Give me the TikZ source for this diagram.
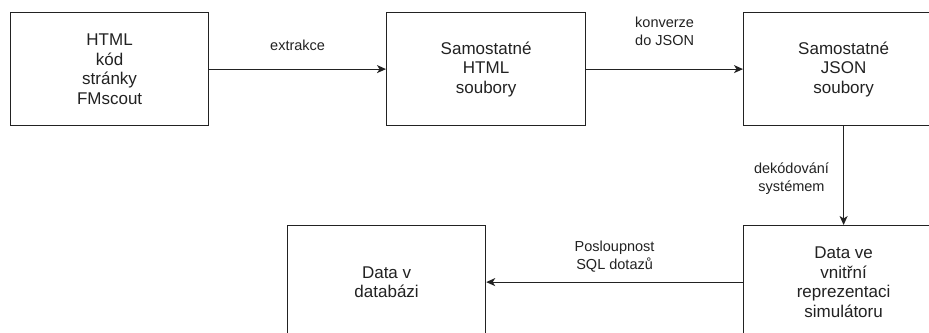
\documentclass[tikz,border=0pt]{standalone}
\usepackage{fontspec}
\setmainfont{Liberation Sans}
\usetikzlibrary{arrows.meta}
\definecolor{ink}{HTML}{222222}
\begin{document}
\begin{tikzpicture}[x=1pt,y=-1pt,
  box/.style={draw=ink, line width=1.2pt, anchor=north west, align=center,
    text=ink, font=\fontsize{17}{19.5}\selectfont, inner sep=0pt},
  flow/.style={draw=ink, line width=1.2pt, -{Stealth[length=9pt,width=8pt,inset=2.5pt]}},
  lbl/.style={text=ink, align=center, font=\fontsize{14.5}{18}\selectfont, inner sep=0pt}]
\useasboundingbox (0,0) rectangle (929,332);
\fill[white] (0,0) rectangle (929,332);

\node[box, minimum width=198pt, minimum height=113pt] (src) at (10,12)
  {HTML\\kód\\stránky\\FMscout};
\node[box, minimum width=199pt, minimum height=113pt] (html) at (386,12)
  {Samostatné\\HTML\\soubory};
\node[box, minimum width=200pt, minimum height=113pt] (json) at (743,12)
  {Samostatné\\JSON\\soubory};
\node[box, minimum width=200pt, minimum height=113pt] (sim) at (743,225)
  {Data ve\\vnitřní\\reprezentaci\\simulátoru};
\node[box, minimum width=198pt, minimum height=113pt] (db) at (287,225)
  {Data v\\databázi};

\draw[flow] (src.east) -- node[lbl, midway, above=18pt] (l1) {extrakce} (html.west);
\draw[flow] (html.east) -- node[lbl, midway, above=23pt] (l2) {konverze\\do JSON} (json.west);
\draw[flow] (json.south) -- node[lbl, midway, left=14pt, yshift=-3pt] (l3) {dekódování\\systémem} (sim.north);
\draw[flow] (sim.west) -- node[lbl, midway, above=9pt] (l4) {Posloupnost\\SQL dotazů} (db.east);
\end{tikzpicture}
\end{document}
